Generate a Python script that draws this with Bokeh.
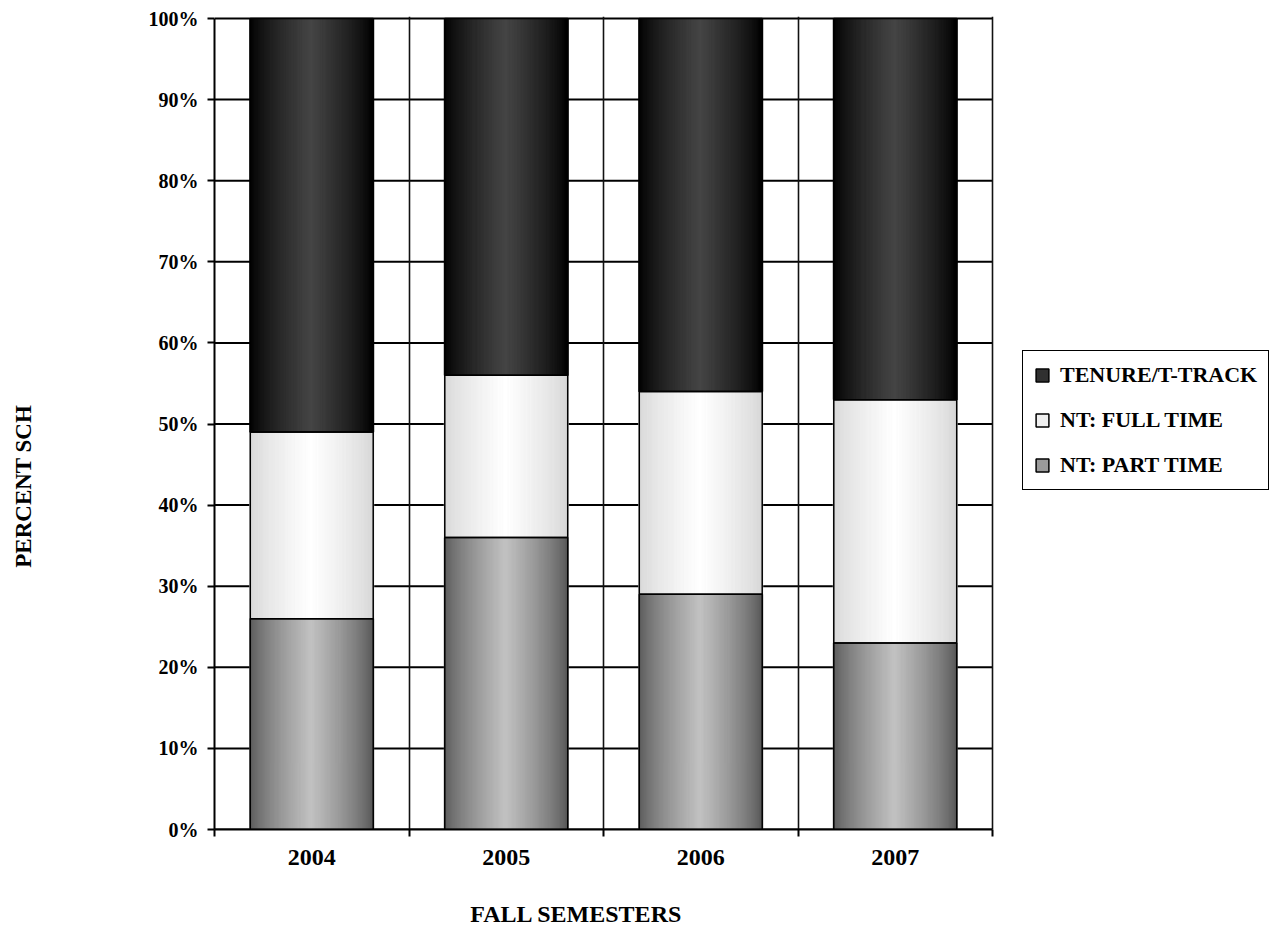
import numpy as np
from bokeh.plotting import figure
from bokeh.models import (ColumnDataSource, FixedTicker, LinearAxis, NumeralTickFormatter,
                          Legend, LegendItem, Range1d)
from bokeh.embed import file_html
from bokeh.resources import INLINE

years = ["2004", "2005", "2006", "2007"]
part_time = [26, 36, 29, 23]
full_time = [23, 20, 25, 30]
tenure = [51, 44, 46, 47]
series_names = ["NT: PART TIME", "NT: FULL TIME", "TENURE/T-TRACK"]
# (edge grey, centre grey) of the horizontal cylinder gradient for each series
gradients = [(0x58, 0xC2), (0xD6, 0xFF), (0x00, 0x46)]
legend_colors = ["#9a9a9a", "#f0f0f0", "#303030"]

FONT = "Liberation Serif"
BAR_W = 0.632
N_STRIPS = 100
NBSP = "\u00a0"

# plot area of the bars: 778 px for the 4 categories; the frame continues to the right
# so that the legend can sit inside it.
CAT_PX = 778 / 4
FRAME_W = 1274 - 214
x_end = 0.5 + FRAME_W / CAT_PX

p = figure(frame_width=FRAME_W, frame_height=813, output_backend="svg", toolbar_location=None,
           x_range=Range1d(0.5, x_end), y_range=Range1d(0, 813 / 811),
           min_border_left=214, min_border_right=0, min_border_top=16, min_border_bottom=101)
p.background_fill_color = "white"
p.border_fill_color = "white"
p.outline_line_color = None

vals = [np.array(part_time) / 100.0, np.array(full_time) / 100.0, np.array(tenure) / 100.0]
bottoms = np.zeros(len(years))
xs_center = np.arange(1, len(years) + 1, dtype=float)

# grid lines of the bar area (horizontal ones bounded to the categories)
boundaries = [0.5, 1.5, 2.5, 3.5, 4.5]
pct_ticks = [i / 10 for i in range(11)]
p.segment(x0=[boundaries[0]] * len(pct_ticks), x1=[boundaries[-1]] * len(pct_ticks),
          y0=pct_ticks, y1=pct_ticks, line_color="black", line_width=2, level="underlay")
p.ygrid.visible = False
p.xgrid.ticker = FixedTicker(ticks=boundaries)
p.xgrid.grid_line_color = "#111111"
p.xgrid.grid_line_width = 1.6
p.xgrid.level = "underlay"

t = (np.arange(N_STRIPS) + 0.5) / N_STRIPS
g = 1 - np.abs(2 * t - 1)
f = g ** 0.75

outline = dict(x=[], bottom=[], top=[])
for s, v in enumerate(vals):
    tops = bottoms + v
    e, c = gradients[s]
    xs, bs, ts, cols = [], [], [], []
    for i in range(len(years)):
        for k in range(N_STRIPS):
            xs.append(xs_center[i] - BAR_W / 2 + t[k] * BAR_W)
            bs.append(bottoms[i])
            ts.append(tops[i])
            lv = int(round(e + (c - e) * f[k]))
            cols.append("#%02x%02x%02x" % (lv, lv, lv))
        outline["x"].append(xs_center[i])
        outline["bottom"].append(bottoms[i])
        outline["top"].append(tops[i])
    src = ColumnDataSource(dict(x=xs, bottom=bs, top=ts, color=cols))
    p.vbar(x="x", bottom="bottom", top="top", width=BAR_W / N_STRIPS * 2.2, source=src,
           fill_color="color", line_color="color", line_width=0.5)
    bottoms = tops

p.vbar(x="x", bottom="bottom", top="top", width=BAR_W, source=ColumnDataSource(outline),
       fill_alpha=0, line_color="black", line_width=1.5)

# y axis
yax = p.yaxis[0]
yax.bounds = (0, 1)
yax.ticker = FixedTicker(ticks=pct_ticks, minor_ticks=[])
yax.formatter = NumeralTickFormatter(format="0%")
yax.major_tick_out = 7
yax.major_tick_in = 0
yax.major_tick_line_width = 2
yax.axis_line_width = 2
yax.major_label_text_font = FONT
yax.major_label_text_font_style = "bold"
yax.major_label_text_font_size = "20px"
yax.major_label_text_color = "black"
yax.major_label_standoff = 9
yax.axis_label = "PERCENT SCH" + NBSP * 22
yax.axis_label_text_font = FONT
yax.axis_label_text_font_style = "bold"
yax.axis_label_text_font_size = "23px"
yax.axis_label_text_color = "black"
yax.axis_label_standoff = 110

# x axis: tick marks at category boundaries
xax = p.xaxis[0]
xax.bounds = (0.5, 4.5)
xax.ticker = FixedTicker(ticks=boundaries, minor_ticks=[])
xax.major_label_overrides = {b: "" for b in boundaries}
xax.major_label_text_font_size = "1px"
xax.major_tick_out = 7
xax.major_tick_in = 0
xax.major_tick_line_width = 2
xax.axis_line_width = 2
xax.major_label_standoff = 0

# x axis: category labels + axis title
lax = LinearAxis(ticker=FixedTicker(ticks=list(xs_center), minor_ticks=[]))
lax.major_label_overrides = {float(x): y for x, y in zip(xs_center, years)}
lax.axis_line_color = None
lax.major_tick_line_color = None
lax.major_tick_out = 0
lax.major_tick_in = 0
lax.major_label_text_font = FONT
lax.major_label_text_font_style = "bold"
lax.major_label_text_font_size = "24px"
lax.major_label_text_color = "black"
lax.major_label_standoff = 13
lax.axis_label = "FALL SEMESTERS" + NBSP * 56
lax.axis_label_text_font = FONT
lax.axis_label_text_font_style = "bold"
lax.axis_label_text_font_size = "24px"
lax.axis_label_text_color = "black"
lax.axis_label_standoff = 33
p.add_layout(lax, "below")

# legend (zero-size proxy bars carry the legend swatches)
dummies = []
zeros = [0.0] * len(years)
for name, col in zip(series_names, legend_colors):
    r = p.vbar(x=list(xs_center), bottom=zeros, top=zeros, width=0.0, fill_color=col,
               line_color="black", line_width=1.5)
    dummies.append((name, r))
items = [LegendItem(label=n, renderers=[r]) for n, r in reversed(dummies)]
legend = Legend(items=items, location=(808, 339))
legend.label_text_font = FONT
legend.label_text_font_style = "bold"
legend.label_text_font_size = "22px"
legend.label_text_color = "black"
legend.glyph_width = 16
legend.glyph_height = 16
legend.label_height = 20
legend.label_standoff = 10
legend.spacing = 19
legend.padding = 11
legend.margin = 0
legend.border_line_color = "black"
legend.border_line_alpha = 1
legend.border_line_width = 1.5
legend.background_fill_alpha = 1
p.add_layout(legend)

open("out.html", "w").write(file_html(p, INLINE))
